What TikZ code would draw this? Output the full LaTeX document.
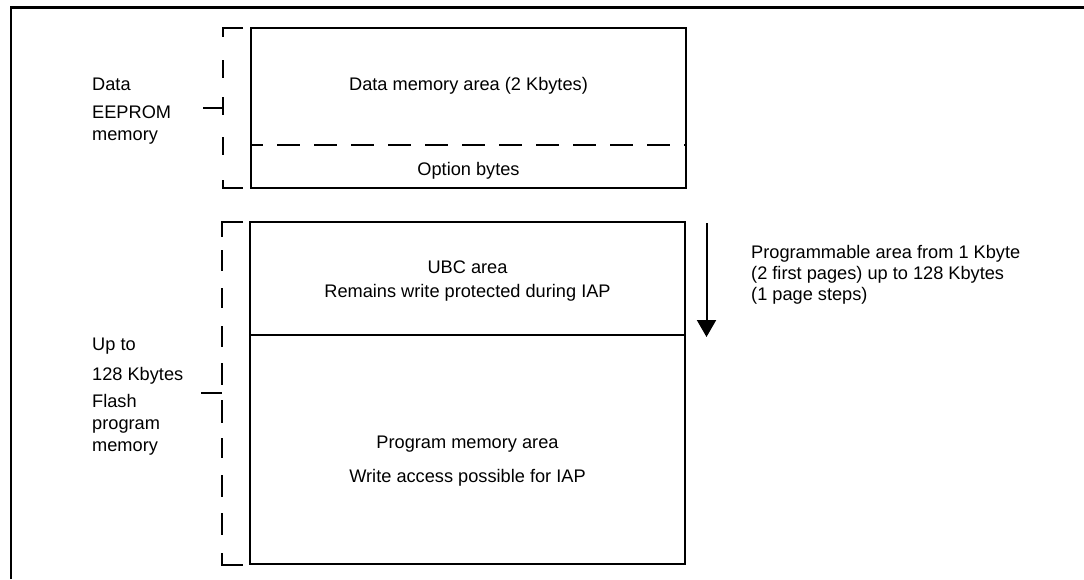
\documentclass[tikz,border=0pt]{standalone}
\usepackage{fontspec}
\setmainfont{Liberation Sans}
\usetikzlibrary{arrows.meta}
\begin{document}
\begin{tikzpicture}[x=1pt,y=-1pt,
  txt/.style={inner sep=0pt,font=\fontsize{18.2}{21}\selectfont},
  boxline/.style={line width=1.9pt},
  brk/.style={line width=1.9pt},
  frame/.style={line width=2.4pt}]
\useasboundingbox (0,0) rectangle (1084,579);
% outer frame (cropped)
\draw[frame] (11,579) -- (11,7.5) -- (1090,7.5);
% data EEPROM box
\draw[boxline] (251,28) rectangle (686,188);
\draw[boxline,dash pattern=on 23pt off 14pt,dash phase=11pt] (251,145) -- (686,145);
\node[txt,anchor=base] (dma) at (468.5,90) {Data memory area (2 Kbytes)};
\node[txt,anchor=base] (ob) at (468.5,175) {Option bytes};
% flash box
\draw[boxline] (250,222) rectangle (685,564);
\draw[boxline] (250,335) -- (685,335);
\node[txt,anchor=base] (ubc1) at (467.5,273) {UBC area};
\node[txt,anchor=base] (ubc2) at (467.5,297) {Remains write protected during IAP};
\node[txt,anchor=base] (pm1) at (467.5,448) {Program memory area};
\node[txt,anchor=base] (pm2) at (467.5,482) {Write access possible for IAP};
% top bracket
\draw[brk] (243,28) -- (223,28) -- (223,37);
\foreach \a/\b in {60/78,97/115,137/155} \draw[brk] (223,\a) -- (223,\b);
\draw[brk] (223,180) -- (223,188) -- (243,188);
\draw[brk] (203,108) -- (223,108);
% bottom bracket
\draw[brk] (243,222) -- (222,222) -- (222,237);
\foreach \a/\b in {250/271,288/308,326/347,363/385,400/423,438/458,475/497,513/535} \draw[brk] (222,\a) -- (222,\b);
\draw[brk] (222,553) -- (222,565) -- (243,565);
\draw[brk] (201,393) -- (222,393);
% left labels
\node[txt,anchor=base west] (l1) at (92,90) {Data};
\node[txt,anchor=base west] (l2) at (92,118) {EEPROM};
\node[txt,anchor=base west] (l3) at (92,140) {memory};
\node[txt,anchor=base west] (f1) at (92,350) {Up to};
\node[txt,anchor=base west] (f2) at (92,380) {128 Kbytes};
\node[txt,anchor=base west] (f3) at (92,407) {Flash};
\node[txt,anchor=base west] (f4) at (92,429) {program};
\node[txt,anchor=base west] (f5) at (92,451) {memory};
% arrow
\coordinate (as) at (706.5,223);
\coordinate (ae) at (706.5,337);
\draw[line width=2pt,-{Triangle[width=19pt,length=17pt]}] (as) -- (ae);
\node[txt,anchor=base west] (r1) at (751,258) {Programmable area from 1 Kbyte};
\node[txt,anchor=base west] (r2) at (751,279) {(2 first pages) up to 128 Kbytes};
\node[txt,anchor=base west] (r3) at (751,300) {(1 page steps)};
\end{tikzpicture}
\end{document}
